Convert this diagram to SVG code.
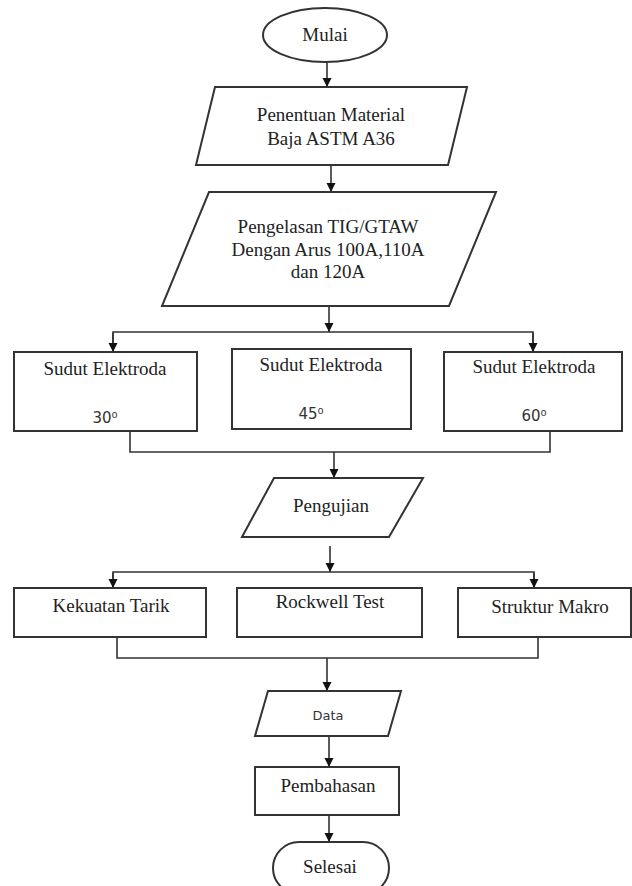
<svg xmlns="http://www.w3.org/2000/svg" width="632" height="886" viewBox="0 0 632 886">
<style>
.shape{fill:#fff;stroke:#333;stroke-width:2}
.con{fill:none;stroke:#333;stroke-width:1.6}
.t{font-family:"Liberation Serif","Times New Roman",serif;font-size:19px;fill:#222;text-anchor:middle}
.s{font-family:"DejaVu Sans",Verdana,sans-serif;font-size:15px;fill:#333;text-anchor:middle}
</style>
<defs>
<marker id="arr" viewBox="0 0 10 10" refX="10" refY="5" markerUnits="userSpaceOnUse" markerWidth="9" markerHeight="10" orient="auto">
<path d="M0,0 L10,5 L0,10 z" fill="#111"/>
</marker>
</defs>
<rect width="632" height="886" fill="#fff"/>
<g id="connectors" class="con">
<line x1="327" y1="62" x2="327" y2="87" marker-end="url(#arr)"/>
<line x1="331" y1="165" x2="331" y2="192" marker-end="url(#arr)"/>
<line x1="329" y1="306" x2="329" y2="332" marker-end="url(#arr)"/>
<polyline points="113,352 113,332 533,332 533,352"/>
<line x1="113" y1="333" x2="113" y2="352" marker-end="url(#arr)"/>
<line x1="533" y1="333" x2="533" y2="352" marker-end="url(#arr)"/>
<polyline points="130,431 130,452 550,452 550,431"/>
<line x1="334" y1="452" x2="334" y2="478" marker-end="url(#arr)"/>
<line x1="330" y1="546" x2="330" y2="572" marker-end="url(#arr)"/>
<polyline points="113,588 113,572 534,572 534,588"/>
<line x1="113" y1="573" x2="113" y2="588" marker-end="url(#arr)"/>
<line x1="534" y1="573" x2="534" y2="588" marker-end="url(#arr)"/>
<polyline points="117,637 117,658 538,658 538,637"/>
<line x1="327" y1="658" x2="327" y2="691" marker-end="url(#arr)"/>
<line x1="329" y1="736" x2="329" y2="767" marker-end="url(#arr)"/>
<line x1="329" y1="815" x2="329" y2="842" marker-end="url(#arr)"/>
</g>
<g id="mulai">
<ellipse class="shape" cx="325" cy="35" rx="62" ry="27"/>
<text class="t" x="325" y="41">Mulai</text>
</g>
<g id="material">
<polygon class="shape" points="215,87 467,87 448,165 196,165"/>
<text class="t" x="331" y="121">Penentuan Material</text>
<text class="t" x="331" y="145">Baja ASTM A36</text>
</g>
<g id="pengelasan">
<polygon class="shape" points="209,192 496,192 449,306 162,306"/>
<text class="t" x="328" y="233">Pengelasan TIG/GTAW</text>
<text class="t" x="328" y="256">Dengan Arus 100A,110A</text>
<text class="t" x="328" y="278">dan 120A</text>
</g>
<g id="sudut30">
<rect class="shape" x="14" y="352" width="183" height="79"/>
<text class="t" x="105" y="375">Sudut Elektroda</text>
<text class="s" x="105" y="423">30⁰</text>
</g>
<g id="sudut45">
<rect class="shape" x="232" y="349" width="179" height="80"/>
<text class="t" x="321" y="371">Sudut Elektroda</text>
<text class="s" x="311" y="419">45⁰</text>
</g>
<g id="sudut60">
<rect class="shape" x="444" y="352" width="178" height="79"/>
<text class="t" x="534" y="373">Sudut Elektroda</text>
<text class="s" x="534" y="421">60⁰</text>
</g>
<g id="pengujian">
<polygon class="shape" points="274,478 423,478 389,537 242,537"/>
<text class="t" x="331" y="512">Pengujian</text>
</g>
<g id="kekuatan">
<rect class="shape" x="14" y="588" width="192" height="49"/>
<text class="t" x="111" y="612">Kekuatan Tarik</text>
</g>
<g id="rockwell">
<rect class="shape" x="237" y="588" width="185" height="49"/>
<text class="t" x="330" y="608">Rockwell Test</text>
</g>
<g id="makro">
<rect class="shape" x="458" y="588" width="173" height="49"/>
<text class="t" x="550" y="613">Struktur Makro</text>
</g>
<g id="data">
<polygon class="shape" points="268,691 401,691 388,736 255,736"/>
<text class="s" x="328" y="720" style="font-size:13px">Data</text>
</g>
<g id="pembahasan">
<rect class="shape" x="255" y="767" width="144" height="48"/>
<text class="t" x="328" y="792">Pembahasan</text>
</g>
<g id="selesai">
<rect class="shape" x="273" y="842" width="116" height="52" rx="26" ry="26"/>
<text class="t" x="330" y="873">Selesai</text>
</g>
</svg>
